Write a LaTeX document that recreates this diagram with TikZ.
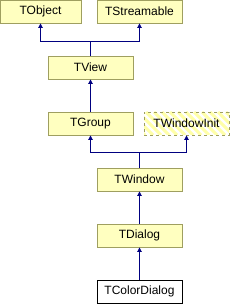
\documentclass[tikz,border=0pt]{standalone}
\usepackage{fontspec}
\setmainfont{Liberation Sans}
\usetikzlibrary{arrows.meta}
\definecolor{dxfill}{HTML}{FFFFC0}
\definecolor{dxline}{HTML}{9F9F60}
\definecolor{dxblue}{HTML}{000080}
\definecolor{dxhatch}{HTML}{FFFFA8}
\begin{document}
\begin{tikzpicture}[x=1pt,y=-1pt,
    cls/.style={draw=dxline,fill=dxfill,line width=0.9pt,minimum width=85pt,minimum height=23pt,inner sep=0pt,font=\fontsize{12}{14}\selectfont},
    clsmain/.style={cls,draw=black,fill=white},
    clsext/.style={cls,dash pattern=on 3pt off 3pt,fill=none},
    inh/.style={draw=dxblue,line width=0.9pt,-{Triangle[length=4.5pt,width=4.5pt]}}]
      \useasboundingbox (0,0) rectangle (230,304);
      \node[cls,minimum width=81pt] (tobject) at (40.5,11.5) {TObject};
      \node[cls] (tstream) at (139.5,11.5) {TStreamable};
      \node[cls] (tview) at (90.5,67.5) {TView};
      \node[cls] (tgroup) at (90.5,123.5) {TGroup};
      % striped fill behind the external class
      \begin{scope}
        \clip (144,112) rectangle (229,135);
        \foreach \s in {0,8,...,120}
          \draw[dxhatch,line width=3pt] (144+\s-30,112) -- (144+\s-7,135);
      \end{scope}
      \node[clsext] (twinit) at (186.5,123.5) {TWindowInit};
      \node[cls] (twindow) at (139.5,179.5) {TWindow};
      \node[cls] (tdialog) at (139.5,235.5) {TDialog};
      \node[clsmain] (tcolor) at (139.5,291.5) {TColorDialog};
      % inheritance links
      \coordinate (jview) at (90.5,41);
      \coordinate (jwin) at (139.5,152);
      \draw[inh] (tview.north) -- (jview) -| (tobject.south);
      \draw[inh] (jview) -| (tstream.south);
      \draw[inh] (tgroup.north) -- (tview.south);
      \draw[inh] (twindow.north) -- (jwin) -| (tgroup.south);
      \draw[inh] (jwin) -| (twinit.south);
      \draw[inh] (tdialog.north) -- (twindow.south);
      \draw[inh] (tcolor.north) -- (tdialog.south);
    \end{tikzpicture}
\end{document}
